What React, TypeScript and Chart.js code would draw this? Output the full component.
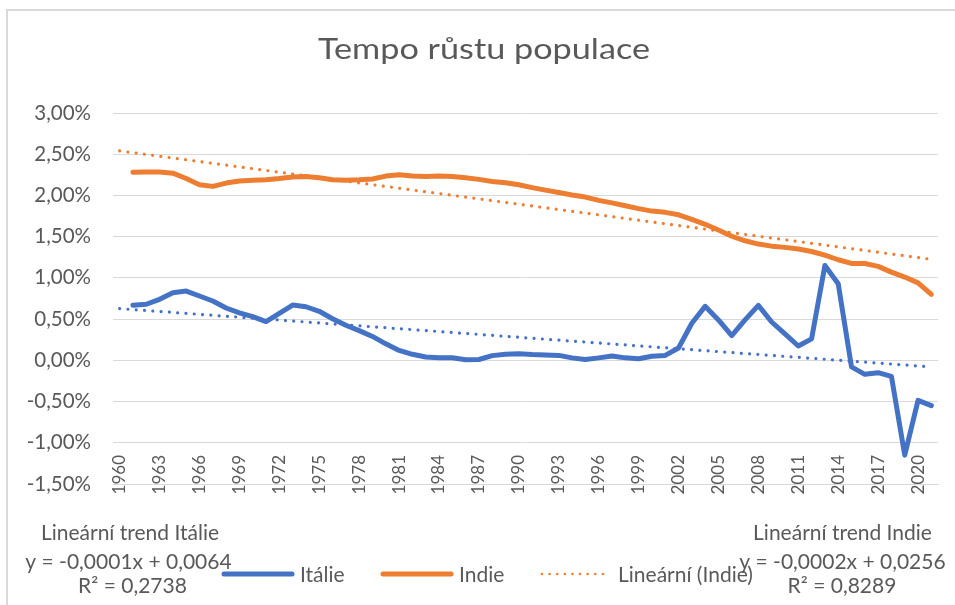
import React, { useEffect, useRef } from 'react';
import { Chart, registerables } from 'chart.js';

Chart.register(...registerables);

const TITLE = 'Tempo růstu populace';

const years: string[] = [
  '1960', '1961', '1962', '1963', '1964', '1965', '1966', '1967', '1968', '1969',
  '1970', '1971', '1972', '1973', '1974', '1975', '1976', '1977', '1978', '1979',
  '1980', '1981', '1982', '1983', '1984', '1985', '1986', '1987', '1988', '1989',
  '1990', '1991', '1992', '1993', '1994', '1995', '1996', '1997', '1998', '1999',
  '2000', '2001', '2002', '2003', '2004', '2005', '2006', '2007', '2008', '2009',
  '2010', '2011', '2012', '2013', '2014', '2015', '2016', '2017', '2018', '2019',
  '2020', '2021',
];

// growth rate in percent
const italy: (number | null)[] = [
  null, 0.667, 0.68, 0.74, 0.82, 0.84, 0.78, 0.72, 0.635, 0.575,
  0.53, 0.47, 0.57, 0.67, 0.65, 0.595, 0.505, 0.425, 0.36, 0.29,
  0.2, 0.12, 0.073, 0.04, 0.032, 0.032, 0.008, 0.01, 0.057, 0.075,
  0.08, 0.07, 0.065, 0.06, 0.03, 0.01, 0.03, 0.053, 0.03, 0.02,
  0.05, 0.06, 0.15, 0.45, 0.655, 0.49, 0.3, 0.49, 0.667, 0.465,
  0.32, 0.174, 0.26, 1.15, 0.93, -0.08, -0.17, -0.15, -0.195, -1.15,
  -0.485, -0.55,
];

const india: (number | null)[] = [
  null, 2.28, 2.285, 2.285, 2.27, 2.205, 2.13, 2.11, 2.15, 2.175,
  2.185, 2.19, 2.205, 2.225, 2.23, 2.215, 2.19, 2.185, 2.19, 2.2,
  2.235, 2.25, 2.235, 2.23, 2.235, 2.23, 2.215, 2.195, 2.17, 2.155,
  2.13, 2.095, 2.065, 2.035, 2.005, 1.98, 1.94, 1.91, 1.875, 1.84,
  1.81, 1.795, 1.765, 1.71, 1.65, 1.58, 1.505, 1.45, 1.41, 1.385,
  1.37, 1.35, 1.32, 1.275, 1.22, 1.175, 1.175, 1.14, 1.07, 1.01,
  0.94, 0.8,
];

// trend line end points (first and last year)
const italyTrendEnds: [number, number] = [0.627, -0.08];
const indiaTrendEnds: [number, number] = [2.54, 1.225];

const italyTrendText = ['Lineární trend Itálie', 'y = -0,0001x + 0,0064', 'R² = 0,2738'];
const indiaTrendText = ['Lineární trend Indie', 'y = -0,0002x + 0,0256', 'R² = 0,8289'];

const BLUE = '#4472C4';
const ORANGE = '#ED7D31';
const TEXT = '#595959';
const GRID = '#D9D9D9';
const FONT = 'Lato, "Liberation Sans", sans-serif';

function trendSeries(ends: [number, number]): (number | null)[] {
  return years.map((_, i) => (i === 0 ? ends[0] : i === years.length - 1 ? ends[1] : null));
}

function stretchedText(ctx: CanvasRenderingContext2D, text: string, cx: number, baseline: number, width: number) {
  const w = ctx.measureText(text).width;
  const sx = width / w;
  ctx.save();
  ctx.translate(cx, baseline);
  ctx.scale(sx, 1);
  ctx.textAlign = 'center';
  ctx.fillText(text, 0, 0);
  ctx.restore();
}

const overlayPlugin = {
  id: 'overlay',
  afterDraw(chart: any) {
    const ctx: CanvasRenderingContext2D = chart.ctx;
    ctx.save();
    // frame
    ctx.strokeStyle = GRID;
    ctx.lineWidth = 2;
    ctx.beginPath();
    ctx.moveTo(7, 610);
    ctx.lineTo(7, 10);
    ctx.lineTo(960, 10);
    ctx.stroke();

    // category labels (every third year), rotated, overlapping the bottom band
    const xs = chart.scales.x;
    ctx.fillStyle = TEXT;
    ctx.font = `17px ${FONT}`;
    ctx.textBaseline = 'middle';
    ctx.textAlign = 'right';
    years.forEach((lab, i) => {
      if (i % 3 !== 0) return;
      const px = xs.getPixelForValue(i);
      ctx.save();
      ctx.translate(px, chart.chartArea.bottom - 29);
      ctx.rotate(-Math.PI / 2);
      ctx.fillText(lab, 0, 0);
      ctx.restore();
    });

    // title
    ctx.textBaseline = 'alphabetic';
    ctx.font = `28px ${FONT}`;
    stretchedText(ctx, TITLE, 484, 59, 332);

    // trend labels
    ctx.font = `21px ${FONT}`;
    ctx.textAlign = 'center';
    const rows = [540, 569, 593];
    ctx.fillText(italyTrendText[0], 130, rows[0]);
    ctx.fillText(italyTrendText[1], 128.5, rows[1]);
    ctx.fillText(italyTrendText[2], 132.5, rows[2]);
    ctx.fillText(indiaTrendText[0], 842.5, rows[0]);
    ctx.fillText(indiaTrendText[1], 842.5, rows[1]);
    ctx.fillText(indiaTrendText[2], 842, rows[2]);

    // legend
    ctx.textAlign = 'left';
    const starts = [222, 381, 540];
    const y = 574;
    let k = 0;
    chart.data.datasets.forEach((ds: any) => {
      if (ds.hideInLegend) return;
      const x = starts[k++];
      const w = 72;
      ctx.save();
      ctx.strokeStyle = ds.borderColor;
      ctx.lineCap = 'round';
      if (ds.borderDash && ds.borderDash.length) {
        ctx.lineWidth = 2.6;
        ctx.setLineDash([0.01, 7.6]);
      } else {
        ctx.lineWidth = 5;
      }
      ctx.beginPath();
      ctx.moveTo(x + 2, y);
      ctx.lineTo(x + w - 2, y);
      ctx.stroke();
      ctx.restore();
      ctx.fillStyle = TEXT;
      ctx.fillText(ds.label, x + w + 6, 582);
    });
    ctx.restore();
  },
};

export default function App() {
  const ref = useRef<HTMLCanvasElement>(null);
  useEffect(() => {
    if (!ref.current) return;
    const chart = new Chart(ref.current, {
      type: 'line',
      data: {
        labels: years,
        datasets: [
          {
            label: 'Itálie',
            data: italy,
            borderColor: BLUE,
            backgroundColor: BLUE,
            borderWidth: 5,
            pointRadius: 0,
            borderJoinStyle: 'round',
            borderCapStyle: 'round',
            tension: 0,
          },
          {
            label: 'Indie',
            data: india,
            borderColor: ORANGE,
            backgroundColor: ORANGE,
            borderWidth: 5,
            pointRadius: 0,
            borderJoinStyle: 'round',
            borderCapStyle: 'round',
            tension: 0,
          },
          {
            label: 'Lineární (Indie)',
            data: trendSeries(indiaTrendEnds),
            borderColor: ORANGE,
            backgroundColor: ORANGE,
            borderWidth: 3.2,
            borderDash: [0.01, 8.3],
            borderCapStyle: 'round',
            pointRadius: 0,
            spanGaps: true,
          },
          {
            label: 'Lineární (Itálie)',
            hideInLegend: true,
            data: trendSeries(italyTrendEnds),
            borderColor: BLUE,
            backgroundColor: BLUE,
            borderWidth: 3.2,
            borderDash: [0.01, 8.3],
            borderCapStyle: 'round',
            pointRadius: 0,
            spanGaps: true,
          } as any,
        ],
      },
      options: {
        animation: false,
        responsive: false,
        layout: { padding: { top: 113, left: 0, right: 17, bottom: 0 } },
        plugins: {
          legend: { display: false },
          title: { display: false },
          tooltip: { enabled: false },
        },
        scales: {
          x: {
            type: 'category',
            offset: true,
            grid: { display: false, drawTicks: false },
            border: { display: true, color: GRID, width: 1 },
            ticks: { display: false, autoSkip: false },
            afterFit: (s: any) => {
              s.height = 121;
            },
          },
          y: {
            min: -1.5,
            max: 3,
            grid: { color: GRID, lineWidth: 1, drawTicks: false },
            border: { display: false },
            ticks: {
              stepSize: 0.5,
              padding: 22,
              color: TEXT,
              font: { family: FONT, size: 20.5 },
              callback: (v: any) => Number(v).toFixed(2).replace('.', ',') + '%',
            },
            afterFit: (s: any) => {
              s.width = 113;
            },
          },
        },
      },
      plugins: [overlayPlugin],
    });
    return () => chart.destroy();
  }, []);
  return (
    <div style={{ position: 'fixed', left: 0, top: 0, width: 955, height: 605, background: '#fff' }}>
      <canvas ref={ref} width={955} height={605} />
    </div>
  );
}
